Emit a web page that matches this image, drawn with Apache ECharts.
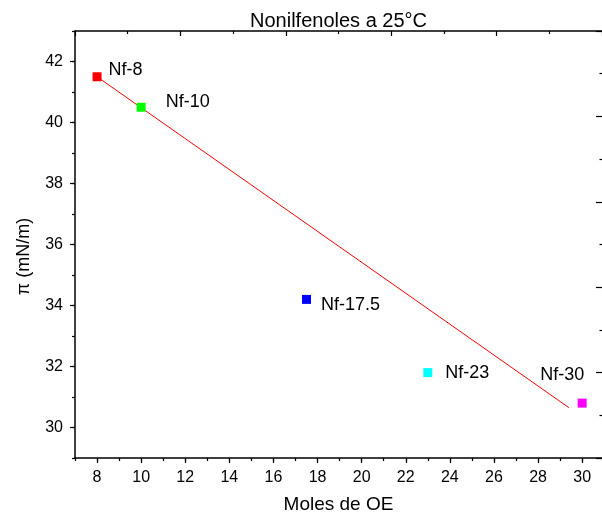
<!DOCTYPE html>
<html>
<head>
<meta charset="utf-8">
<title>Nonilfenoles a 25°C</title>
<script src="https://cdn.jsdelivr.net/npm/echarts@6/dist/echarts.min.js"></script>
<style>
  html, body { margin: 0; padding: 0; background: #fff; }
  #chart { width: 602px; height: 519px; }
</style>
</head>
<body>
<div id="chart"></div>
<script>
// datos
var sampleNames = ['Nf-8', 'Nf-10', 'Nf-17.5', 'Nf-23', 'Nf-30'];
var molesOE = [8, 10, 17.5, 23, 30];
var presion = [41.5, 40.5, 34.2, 31.8, 30.8];

// recta de ajuste (solo los extremos)
var fitX = [8, 29.4];
var fitY = [41.5, 30.65];

// marcas de los ejes
var xTickValues = [8, 10, 12, 14, 16, 18, 20, 22, 24, 26, 28, 30];
var yTickValues = [30, 32, 34, 36, 38, 40, 42];

// estilo de cada punto
var pointColors = ['#ff0000', '#00ff00', '#0000ff', '#00ffff', '#ff00ff'];
var labelPos = ['right', 'right', 'right', 'right', 'top'];
var labelNudge = [[2, -7], [15, -5], [5, 6], [8, 0], [-20, -10]];

var font = 'Arial, "Liberation Sans", sans-serif';
var black = '#000';

var myChart = echarts.init(document.getElementById('chart'));
var option;

option = {
    animation: false,
    backgroundColor: '#fff',
    textStyle: { fontFamily: font, color: black },
    grid: {
        left: 75,
        right: -1,
        top: 31,
        bottom: 58
    },
    xAxis: [
        {
            // eje inferior principal
            type: 'value',
            position: 'bottom',
            min: 7,
            max: 30.9,
            name: 'Moles de OE',
            nameLocation: 'middle',
            nameGap: 37,
            nameTextStyle: { fontSize: 19, color: black, fontFamily: font },
            axisLine: { show: true, lineStyle: { color: black, width: 1.5 } },
            axisTick: { show: true, customValues: xTickValues, length: 5, lineStyle: { color: black, width: 1.2 } },
            axisLabel: { customValues: xTickValues, fontSize: 16, color: black, margin: 12, fontFamily: font },
            splitLine: { show: false }
        },
        {
            // marcas menores abajo
            type: 'value',
            position: 'bottom',
            min: 7,
            max: 30.9,
            interval: 1,
            axisLine: { show: false },
            axisTick: { show: true, length: 3, lineStyle: { color: black, width: 1.2 } },
            axisLabel: { show: false },
            splitLine: { show: false }
        },
        {
            // eje superior (sin etiquetas)
            type: 'value',
            position: 'top',
            min: 0,
            max: 10,
            interval: 2,
            name: 'Nonilfenoles a 25°C',
            nameLocation: 'middle',
            nameGap: 0,
            nameTextStyle: { fontSize: 20, color: black, fontFamily: font },
            axisLine: { show: true, lineStyle: { color: black, width: 1.5 } },
            axisTick: { show: true, inside: true, length: 5, lineStyle: { color: black, width: 1.2 } },
            minorTick: { show: true, splitNumber: 2, length: 3, lineStyle: { color: black, width: 1.2 } },
            axisLabel: { show: false },
            splitLine: { show: false }
        }
    ],
    yAxis: [
        {
            // eje izquierdo principal
            type: 'value',
            position: 'left',
            min: 29,
            max: 43,
            name: 'π (mN/m)',
            nameLocation: 'middle',
            nameGap: 42,
            nameTextStyle: { fontSize: 18, color: black, fontFamily: font, padding: [0, 24, 0, 0] },
            axisLine: { show: true, lineStyle: { color: black, width: 1.5 } },
            axisTick: { show: true, customValues: yTickValues, length: 5, lineStyle: { color: black, width: 1.2 } },
            axisLabel: { customValues: yTickValues, fontSize: 16, color: black, margin: 12, fontFamily: font },
            splitLine: { show: false }
        },
        {
            // marcas menores a la izquierda
            type: 'value',
            position: 'left',
            min: 29,
            max: 43,
            interval: 1,
            axisLine: { show: false },
            axisTick: { show: true, length: 3, lineStyle: { color: black, width: 1.2 } },
            axisLabel: { show: false },
            splitLine: { show: false }
        },
        {
            // eje derecho: solo marcas, sin linea
            type: 'value',
            position: 'right',
            min: 0,
            max: 10,
            interval: 2,
            axisLine: { show: false },
            axisTick: { show: true, inside: true, length: 6, lineStyle: { color: black, width: 1.2 } },
            minorTick: { show: true, splitNumber: 2, length: 2.5, lineStyle: { color: black, width: 1.2 } },
            axisLabel: { show: false },
            splitLine: { show: false }
        }
    ],
    series: [
        {
            name: 'ajuste',
            type: 'line',
            xAxisIndex: 0,
            yAxisIndex: 0,
            showSymbol: false,
            silent: true,
            z: 1,
            lineStyle: { color: '#ff0000', width: 1 },
            data: fitX.map(function (x, i) { return [x, fitY[i]]; })
        },
        {
            name: 'muestras',
            type: 'scatter',
            xAxisIndex: 0,
            yAxisIndex: 0,
            symbol: 'rect',
            symbolSize: 9,
            z: 3,
            itemStyle: { opacity: 1 },
            label: {
                show: true,
                formatter: '{b}',
                fontSize: 18,
                color: black,
                fontFamily: font
            },
            data: sampleNames.map(function (n, i) {
                return {
                    name: n,
                    value: [molesOE[i], presion[i]],
                    itemStyle: { color: pointColors[i], opacity: 1 },
                    label: { position: labelPos[i], offset: labelNudge[i] }
                };
            })
        }
    ]
};

option && myChart.setOption(option);
</script>
</body>
</html>
